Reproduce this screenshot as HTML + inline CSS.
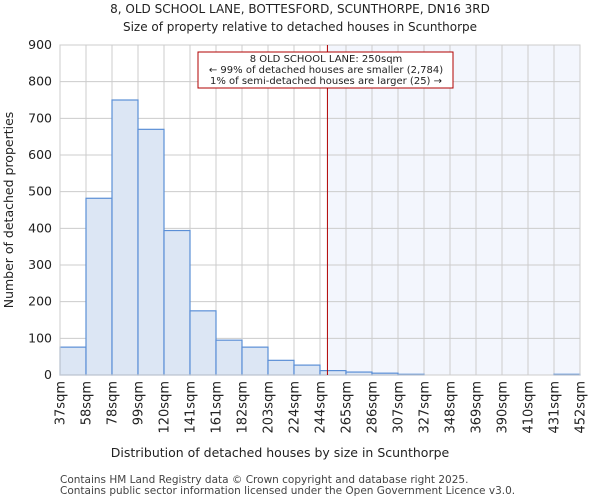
<!DOCTYPE html>
<html><head><meta charset="utf-8"><style>
body{margin:0;background:#fff;font-family:"DejaVu Sans","Liberation Sans",sans-serif;}
</style></head><body>
<svg id="c" width="600" height="500" xmlns="http://www.w3.org/2000/svg" font-family="DejaVu Sans, Liberation Sans, sans-serif">
<text x="300" y="13" text-anchor="middle" font-size="12" fill="#222">8, OLD SCHOOL LANE, BOTTESFORD, SCUNTHORPE, DN16 3RD</text>
<text x="300" y="31" text-anchor="middle" font-size="12" fill="#222">Size of property relative to detached houses in Scunthorpe</text>
<g id="grid"></g><g id="bars"></g><g id="axes"></g>
<text x="280" y="457" text-anchor="middle" font-size="12.5" fill="#222">Distribution of detached houses by size in Scunthorpe</text>
<text transform="translate(13,210) rotate(-90)" text-anchor="middle" font-size="12.5" fill="#222">Number of detached properties</text>
<text x="60" y="483" font-size="10.5" fill="#444">Contains HM Land Registry data © Crown copyright and database right 2025.</text>
<text x="60" y="494" font-size="10.5" fill="#444">Contains public sector information licensed under the Open Government Licence v3.0.</text>
</svg>
<script>
const labels=["37sqm","58sqm","78sqm","99sqm","120sqm","141sqm","161sqm","182sqm","203sqm","224sqm","244sqm","265sqm","286sqm","307sqm","327sqm","348sqm","369sqm","390sqm","410sqm","431sqm","452sqm"];
const edges=[37,58,78,99,120,141,161,182,203,224,244,265,286,307,327,348,369,390,410,431,452];
const counts=[76,482,750,670,394,175,95,76,40,27,12,8,5,2,0,0,0,0,0,2];
const yTicks=[0,100,200,300,400,500,600,700,800,900];
const propSize=250;
const ns="http://www.w3.org/2000/svg";
const L=60,R=580,T=45,B=375,yMax=900,n=counts.length,bw=(R-L)/n;
const xi=i=>L+i*bw;
const xv=v=>{for(let i=0;i<edges.length-1;i++){if(v<=edges[i+1])return xi(i)+(v-edges[i])/(edges[i+1]-edges[i])*bw;}return R;};
const y=v=>B-v/yMax*(B-T);
function mk(t,a,p){const e=document.createElementNS(ns,t);for(const k in a)e.setAttribute(k,a[k]);p.appendChild(e);return e;}
const g=document.getElementById('grid'),bg=document.getElementById('bars'),ax=document.getElementById('axes');
const px=xv(propSize);
const sh=mk('rect',{x:px,y:T,width:R-px,height:B-T,fill:'#f3f6fd'},g);


yTicks.forEach(t=>{
 mk('line',{x1:L,x2:R,y1:y(t),y2:y(t),stroke:'#ccc','stroke-width':1},g);
 const tx=mk('text',{x:L-8,y:y(t)+4,'text-anchor':'end','font-size':12.5,fill:'#222'},ax);tx.textContent=t;
 
 
});
labels.forEach((l,i)=>{
 mk('line',{x1:xi(i),x2:xi(i),y1:T,y2:B,stroke:'#ccc','stroke-width':1},g);
 const tx=mk('text',{transform:`translate(${xi(i)+4.5},${B+6}) rotate(-90)`,'text-anchor':'end','font-size':13,fill:'#222'},ax);tx.textContent=l;
 
 
});
counts.forEach((c,i)=>{
 if(c<=0)return;
 const r=mk('rect',{x:xi(i),y:y(c),width:bw,height:B-y(c),fill:'#dce6f4',stroke:'#5b8fd6','stroke-width':1.2},bg);
 
 
});
mk('rect',{x:L,y:T,width:R-L,height:B-T,fill:'none',stroke:'#ccc'},ax);
const vl=mk('line',{x1:px,x2:px,y1:T,y2:B,stroke:'#b00000','stroke-width':1},ax);


const box=mk('rect',{x:198,y:52,width:255,height:36,fill:'#fff',stroke:'#b00000'},ax);


["8 OLD SCHOOL LANE: 250sqm","← 99% of detached houses are smaller (2,784)","1% of semi-detached houses are larger (25) →"].forEach((s,i)=>{
 const t=mk('text',{x:326,y:62+i*11,'text-anchor':'middle','font-size':10,fill:'#222'},ax);t.textContent=s;
 
 
});
</script>
</body></html>
